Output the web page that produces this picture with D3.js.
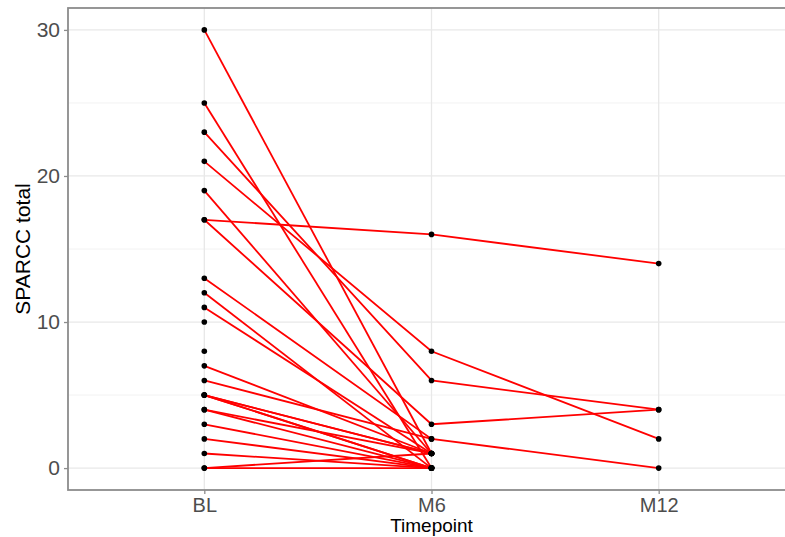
<!DOCTYPE html>
<html>
<head>
<meta charset="utf-8">
<script src="https://cdn.jsdelivr.net/npm/d3@7"></script>
<style>
  body { margin: 0; background: #fff; }
  text { font-family: "Liberation Sans", Arial, sans-serif; }
</style>
</head>
<body>
<div id="chart"></div>
<script>
// timepoints and per-subject SPARCC scores (null = not measured)
const timepoints = ["BL", "M6", "M12"];
const blScores  = [30, 25, 23, 21, 19, 17, 17, 13, 12, 11, 10, 8, 7, 6, 5, 5, 5, 5, 4, 4, 3, 2, 1, 0, 0];
const m6Scores  = [1, 0, 6, 8, 1, 16, 3, 2, 0, 1, null, null, 1, 2, 0, 1, 0, 1, 0, 1, 0, 0, 0, 0, 1];
const m12Scores = [null, null, 4, 2, null, 14, 4, 0, null, null, null, null, null, null, null, null, null, null, null, null, null, null, null, null, null];
const yTicks = [0, 10, 20, 30];
const yMinor = [5, 15, 25];

const subjects = blScores.map((b, i) => {
  const vals = [b, m6Scores[i], m12Scores[i]];
  return timepoints.map((t, j) => ({tp: t, value: vals[j]})).filter(d => d.value != null);
});

const W = 785, H = 537;
const panel = {left: 68, top: 8, right: 795, bottom: 490};

const svg = d3.select("#chart")
  .append("svg")
    .attr("width", W)
    .attr("height", H);

const x = d3.scalePoint()
  .domain(timepoints)
  .range([panel.left, panel.right])
  .padding(0.6);

const y = d3.scaleLinear()
  .domain([-1.5, 31.5])
  .range([panel.bottom, panel.top]);

// grid
const grid = svg.append("g");
grid.selectAll(".minor")
  .data(yMinor)
  .enter().append("line")
    .attr("x1", panel.left).attr("x2", panel.right)
    .attr("y1", d => y(d)).attr("y2", d => y(d))
    .attr("stroke", "#f2f2f2").attr("stroke-width", 1);
grid.selectAll(".major")
  .data(yTicks)
  .enter().append("line")
    .attr("x1", panel.left).attr("x2", panel.right)
    .attr("y1", d => y(d)).attr("y2", d => y(d))
    .attr("stroke", "#e8e8e8").attr("stroke-width", 1.3);
grid.selectAll(".vmajor")
  .data(timepoints)
  .enter().append("line")
    .attr("x1", d => x(d)).attr("x2", d => x(d))
    .attr("y1", panel.top).attr("y2", panel.bottom)
    .attr("stroke", "#e8e8e8").attr("stroke-width", 1.3);

// subject lines
const line = d3.line()
  .x(d => x(d.tp))
  .y(d => y(d.value));

svg.append("g")
  .selectAll("path")
  .data(subjects.filter(s => s.length > 1))
  .enter().append("path")
    .attr("d", line)
    .attr("fill", "none")
    .attr("stroke", "#ff0000")
    .attr("stroke-width", 1.8);

// points
svg.append("g")
  .selectAll("circle")
  .data(subjects.flat())
  .enter().append("circle")
    .attr("cx", d => x(d.tp))
    .attr("cy", d => y(d.value))
    .attr("r", 2.8)
    .attr("fill", "#000");

// panel border
svg.append("rect")
  .attr("x", panel.left).attr("y", panel.top)
  .attr("width", panel.right - panel.left)
  .attr("height", panel.bottom - panel.top)
  .attr("fill", "none")
  .attr("stroke", "#8c8c8c")
  .attr("stroke-width", 1.8);

// axes
const yAxis = svg.append("g")
  .attr("transform", `translate(${panel.left},0)`)
  .call(d3.axisLeft(y).tickValues(yTicks).tickSize(4).tickPadding(4));
const xAxis = svg.append("g")
  .attr("transform", `translate(0,${panel.bottom})`)
  .call(d3.axisBottom(x).tickSize(4).tickPadding(4));

[yAxis, xAxis].forEach(a => {
  a.select(".domain").remove();
  a.selectAll(".tick line").attr("stroke", "#8c8c8c").attr("stroke-width", 1.3);
  a.selectAll(".tick text")
    .attr("fill", "#4d4d4d")
    .style("font-size", "21px")
    .style("font-family", "Liberation Sans, Arial, sans-serif");
});
xAxis.selectAll(".tick text").style("font-size", "20px");

// axis titles
svg.append("text")
  .attr("x", (panel.left + panel.right) / 2)
  .attr("y", 532)
  .attr("text-anchor", "middle")
  .style("font-size", "19px")
  .attr("fill", "#000")
  .text("Timepoint");

svg.append("text")
  .attr("transform", `translate(30,${(panel.top + panel.bottom) / 2})rotate(-90)`)
  .attr("text-anchor", "middle")
  .style("font-size", "21px")
  .attr("fill", "#000")
  .text("SPARCC total");
</script>
</body>
</html>
